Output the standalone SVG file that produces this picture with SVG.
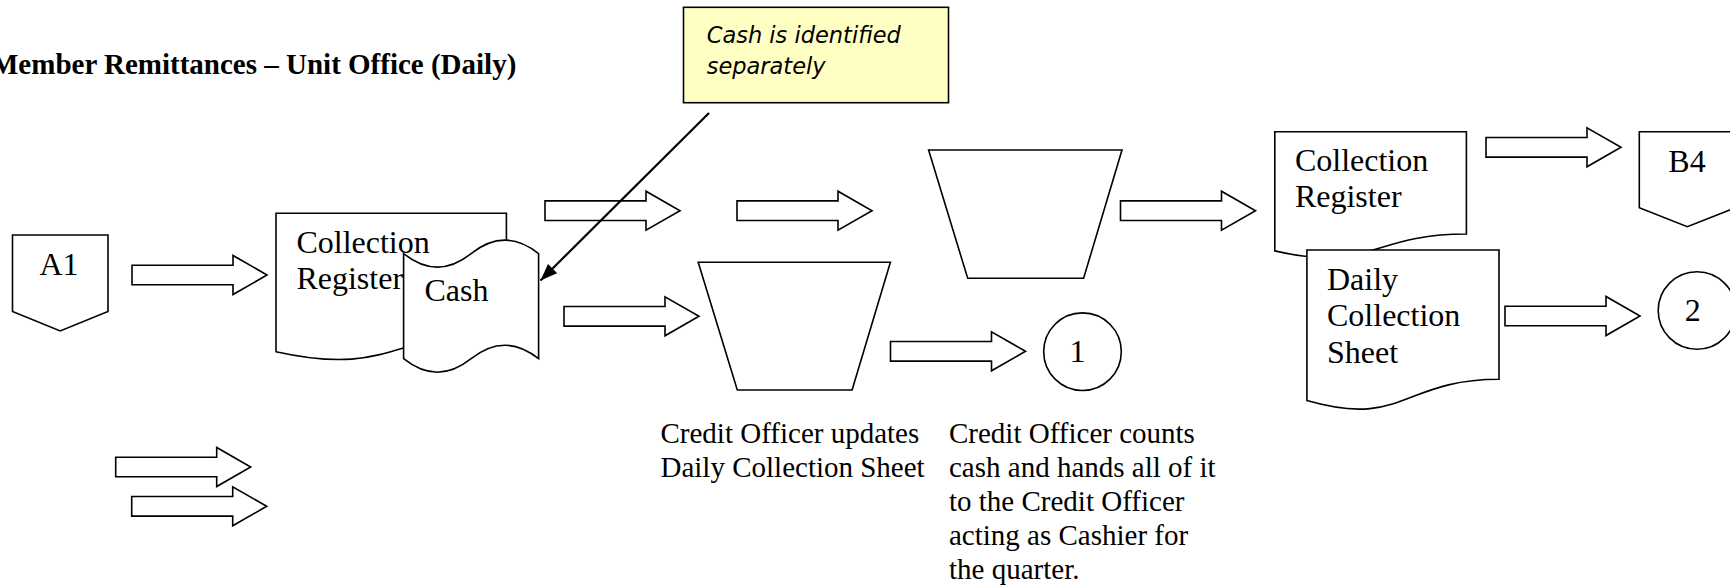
<svg xmlns="http://www.w3.org/2000/svg" width="1730" height="587" viewBox="0 0 1730 587">
<style>
.shp{fill:#fff;stroke:#000;stroke-width:1.6;stroke-linejoin:miter}
.t{font-family:"Liberation Serif","Times New Roman",serif;font-size:32px;fill:#000}
.lbl{font-family:"Liberation Serif","Times New Roman",serif;font-size:29px;fill:#000}
.ttl{font-family:"Liberation Serif","Times New Roman",serif;font-size:29px;font-weight:bold;fill:#000}
.call{font-family:"DejaVu Sans",Verdana,sans-serif;font-size:22.5px;font-style:italic;fill:#000}
.ba{fill:#fff;stroke:#000;stroke-width:1.6}
</style>
<defs>
<path id="blk" d="M0,-9.8 H101 V-19.5 L135,0 L101,19.5 V9.8 H0 Z"/>
<marker id="ah" markerUnits="userSpaceOnUse" markerWidth="18" markerHeight="14" refX="17" refY="6.5" orient="auto">
<path d="M0,0 L17,6.5 L0,13 Z" fill="#000"/>
</marker>
</defs>
<rect width="1730" height="587" fill="#fff"/>

<text class="ttl" x="-9" y="74">Member Remittances – Unit Office (Daily)</text>

<g id="node-a1">
<path class="shp" d="M12.5,235 H108 V311.5 L60.2,331 L12.5,311.5 Z"/>
<text class="t" x="39.5" y="275">A1</text>
</g>

<g id="node-collection-register-1">
<path class="shp" d="M276,213.3 H506.4 V332.2 C391.2,332.2 391.2,377.4 276,351.7 Z"/>
<text class="t" x="296.4" y="253.3">Collection</text>
<text class="t" x="296.4" y="288.8">Register</text>
</g>

<g id="node-cash">
<path class="shp" d="M403.6,253.6 C426.1,271.6 448.6,271.6 471.1,253.6 C493.6,235.6 516.1,235.6 538.6,253.6 V358.7 C516.1,340.7 493.6,340.7 471.1,358.7 C448.6,376.7 426.1,376.7 403.6,358.7 Z"/>
<text class="t" x="424.5" y="300.5">Cash</text>
</g>

<g id="node-process-1">
<path class="shp" d="M698.2,262.3 H890.4 L852.1,390 H737.3 Z"/>
</g>

<g id="node-process-2">
<path class="shp" d="M928.6,150 H1122 L1083.6,278.3 H967.7 Z"/>
</g>

<g id="node-circle-1">
<circle class="shp" cx="1082.5" cy="351.7" r="38.8"/>
<text class="t" x="1077.5" y="361.7" text-anchor="middle">1</text>
</g>

<g id="node-collection-register-2">
<path class="shp" d="M1274.8,131.7 H1466.4 V234 C1370.6,234 1370.6,273 1274.8,250.9 Z"/>
<text class="t" x="1294.9" y="171">Collection</text>
<text class="t" x="1294.9" y="207.3">Register</text>
</g>

<g id="node-daily-collection-sheet">
<path class="shp" d="M1306.9,250 H1499 V379.3 C1403,379.3 1403,428.5 1306.9,400.6 Z"/>
<text class="t" x="1327" y="290">Daily</text>
<text class="t" x="1327" y="326.3">Collection</text>
<text class="t" x="1327" y="362.8">Sheet</text>
</g>

<g id="node-b4">
<path class="shp" d="M1639.3,131.7 H1735.3 V207.7 L1687.3,226.7 L1639.3,207.7 Z"/>
<text class="t" x="1668.3" y="171.7">B4</text>
</g>

<g id="node-circle-2">
<circle class="shp" cx="1697" cy="310.5" r="38.8"/>
<text class="t" x="1692.7" y="320.7" text-anchor="middle">2</text>
</g>

<g id="node-callout">
<rect x="683.5" y="7.3" width="265" height="95.4" fill="#ffffc4" stroke="#000" stroke-width="1.6"/>
<text class="call" x="706.7" y="43.3">Cash is identified</text>
<text class="call" x="706.7" y="74">separately</text>
</g>

<g id="labels">
<text class="lbl" x="660.5" y="442.5">Credit Officer updates</text>
<text class="lbl" x="660.5" y="476.5">Daily Collection Sheet</text>
<text class="lbl" x="949" y="442.5">Credit Officer counts</text>
<text class="lbl" x="949" y="476.5">cash and hands all of it</text>
<text class="lbl" x="949" y="510.5">to the Credit Officer</text>
<text class="lbl" x="949" y="544.5">acting as Cashier for</text>
<text class="lbl" x="949" y="578.5">the quarter.</text>
</g>

<g id="connectors">
<use href="#blk" class="ba" x="132" y="275"/>
<use href="#blk" class="ba" x="545" y="210.7"/>
<use href="#blk" class="ba" x="737" y="210.7"/>
<use href="#blk" class="ba" x="564" y="316.3"/>
<use href="#blk" class="ba" x="890.5" y="351.3"/>
<use href="#blk" class="ba" x="1120.5" y="210.7"/>
<use href="#blk" class="ba" x="1486" y="147.3"/>
<use href="#blk" class="ba" x="1505" y="316"/>
<use href="#blk" class="ba" x="115.7" y="467"/>
<use href="#blk" class="ba" x="131.7" y="506.3"/>
<line x1="709" y1="113" x2="540.5" y2="280.5" stroke="#000" stroke-width="2.2" marker-end="url(#ah)"/>
</g>
</svg>
